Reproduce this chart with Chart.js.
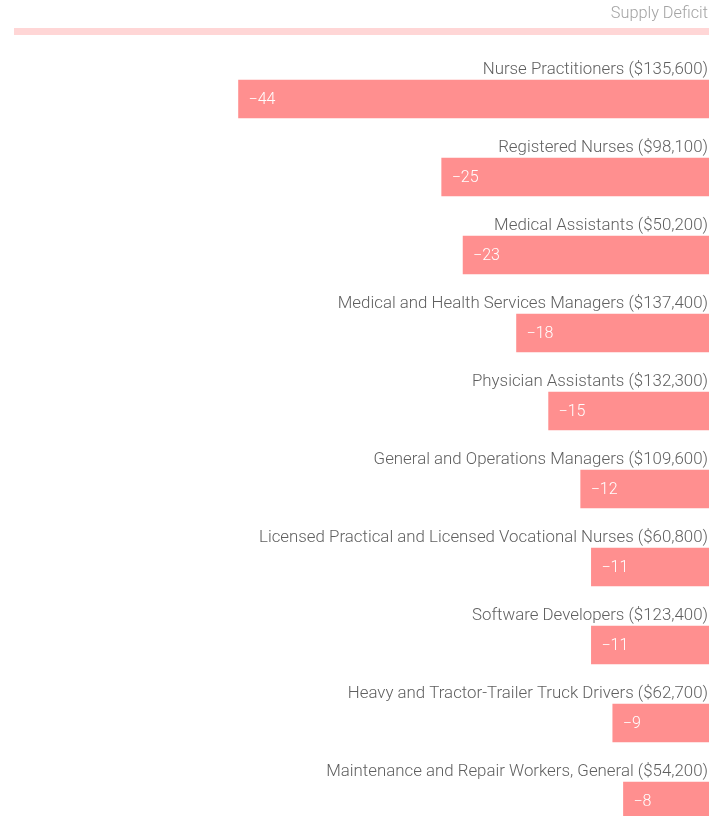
<!DOCTYPE html>
<html>
<head>
<meta charset="utf-8">
<script src="https://cdn.jsdelivr.net/npm/chart.js@4.4.1/dist/chart.umd.min.js"></script>
<style>
html,body{margin:0;padding:0;background:#fff;overflow:hidden;}
canvas{display:block;}
</style>
</head>
<body>
<canvas id="c" width="710" height="860"></canvas>
<script>
const occupations = [
  "Nurse Practitioners",
  "Registered Nurses",
  "Medical Assistants",
  "Medical and Health Services Managers",
  "Physician Assistants",
  "General and Operations Managers",
  "Licensed Practical and Licensed Vocational Nurses",
  "Software Developers",
  "Heavy and Tractor-Trailer Truck Drivers",
  "Maintenance and Repair Workers, General"
];
const salaries = [135600, 98100, 50200, 137400, 132300, 109600, 60800, 123400, 62700, 54200];
const deficits = [-44, -25, -23, -18, -15, -12, -11, -11, -9, -8];
const seriesName = "Supply Deficit";

const labels = occupations.map((o, i) => o + " ($" + salaries[i].toLocaleString('en-US') + ")");
const FONT = "Roboto";

const labelPlugin = {
  id: 'labelPlugin',
  afterDatasetsDraw(chart) {
    const ctx = chart.ctx;
    const area = chart.chartArea;
    const meta = chart.getDatasetMeta(0);
    ctx.save();
    // header
    ctx.font = "300 16.3px " + FONT;
    ctx.fillStyle = "#a3a3a3";
    ctx.textAlign = "right";
    ctx.textBaseline = "middle";
    ctx.fillText(seriesName, area.right - 1, 14);
    ctx.fillStyle = "#ffd6d6";
    ctx.fillRect(area.left, 28, area.right - area.left, 7);
    meta.data.forEach((bar, i) => {
      const top = bar.y - bar.height / 2;
      ctx.font = "300 16.85px " + FONT;
      ctx.fillStyle = "#5f5f5f";
      ctx.textAlign = "right";
      ctx.fillText(labels[i], area.right - 1, top - 10.5);
      ctx.font = "300 16px " + FONT;
      ctx.fillStyle = "#ffffff";
      ctx.textAlign = "left";
      const left = Math.min(bar.x, bar.base);
      ctx.fillText(String(deficits[i]).replace('-', '\u2212'), left + 10, bar.y + 1);
    });
    ctx.restore();
  }
};

new Chart(document.getElementById('c'), {
  type: 'bar',
  data: {
    labels: labels,
    datasets: [{
      label: seriesName,
      data: deficits,
      backgroundColor: '#ff8f8f',
      borderWidth: 0,
      barThickness: 38
    }]
  },
  options: {
    indexAxis: 'y',
    responsive: false,
    animation: false,
    devicePixelRatio: 1,
    layout: { padding: { left: 14, right: 1, top: 60, bottom: 20 } },
    scales: {
      x: { display: false, min: -65, max: 0 },
      y: { display: false }
    },
    plugins: {
      legend: { display: false },
      tooltip: { enabled: false },
      title: { display: false }
    }
  },
  plugins: [labelPlugin]
});
</script>
</body>
</html>
